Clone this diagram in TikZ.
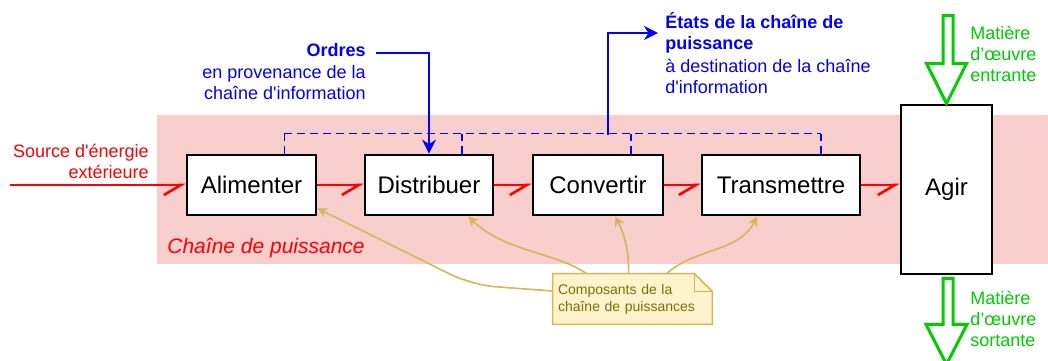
\documentclass[tikz,border=0pt]{standalone}
\usepackage{fontspec}
\setmainfont{Liberation Sans}[Ligatures=TeXOff]
\usetikzlibrary{arrows.meta,calc,backgrounds}
\definecolor{fond}{HTML}{F8CECC}
\definecolor{vert}{HTML}{00CC00}
\definecolor{dore}{HTML}{D6B656}
\definecolor{notefond}{HTML}{FFF2CC}
\definecolor{notetexte}{HTML}{7F6F00}

\begin{document}
\begin{tikzpicture}[x=0.5pt,y=-0.5pt,
	bloc/.style={draw=black, line width=1.4pt, fill=white, inner sep=0pt, minimum height=30pt, font=\fontsize{12}{14}\selectfont},
	energie/.style={draw=red, line width=1.3pt, -{Straight Barb[right,length=8.5pt,width=10pt]}},
	ordre/.style={draw=blue, line width=1.3pt, -{Stealth[length=7pt,width=7pt]}},
	bus/.style={draw=blue, line width=0.8pt, dash pattern=on 4pt off 2.5pt},
	matiere/.style={draw=vert, line width=1.5pt, fill=white},
	lien/.style={draw=dore, line width=0.8pt, -{Stealth[length=5pt,width=5pt]}},
	txt/.style={inner sep=0pt, font=\fontsize{9}{10.5}\selectfont}]
	\useasboundingbox (0,0) rectangle (1048,360);

	\node[bloc, minimum width=64.5pt] (alim) at (251.5,185) {Alimenter};
	\node[bloc, minimum width=64pt] (distr) at (429,185) {Distribuer};
	\node[bloc, minimum width=65pt] (conv) at (598,185) {Convertir};
	\node[bloc, minimum width=79pt] (trans) at (781,185) {Transmettre};
	\node[bloc, minimum width=45.5pt, minimum height=84.5pt] (agir) at (946.5,189.5) {Agir};

	\coordinate (src) at (10,185);
	\draw[energie] (src) -- (alim);
	\draw[energie] (alim) -- (distr);
	\draw[energie] (distr) -- (conv);
	\draw[energie] (conv) -- (trans);
	\draw[energie] (trans.east) -- (trans.east -| agir.west);

	\node[txt, anchor=east, align=right, text=red] (source) at (149,161) {Source d'énergie\\extérieure};
	\node[txt, anchor=west, text=red, font=\itshape\fontsize{10.5}{12}\selectfont] (chaine) at (167,248) {Chaîne de puissance};

	\node[txt, anchor=east, text=blue, font=\bfseries\fontsize{9}{10.5}\selectfont, inner sep=5pt] (ordres) at (376,50) {Ordres};
	\node[txt, anchor=east, align=right, text=blue] (provenance) at (366,82.5) {en provenance de la\\chaîne d'information};
	\draw[ordre] ([yshift=-1.5pt]ordres.east) -| (distr.north);

	\foreach \b in {alim,distr,conv,trans}
		\draw[bus] ($(\b.north)!0.5!(\b.north east)$) -- ++(0,-20) coordinate (\b-bus);
	\draw[bus] (alim-bus) -- (trans-bus);

	\node[txt, anchor=west, align=left, text=blue, font=\bfseries\fontsize{9}{10.5}\selectfont, inner sep=3.5pt] (etats) at (658,33) {États de la chaîne de\\puissance};
	\node[txt, anchor=west, align=left, text=blue] (destination) at (665,76.5) {à destination de la chaîne\\d'information};
	\coordinate (bus) at (608,135);
	\draw[ordre] (bus) |- (etats.west);

	\draw[matiere] (agir.north) -- ++(20,-40) -- ++(-13.5,0) -- ++(0,-48) -- ++(-10,0) -- ++(0,48) -- ++(-16.5,0) -- cycle;
	\draw[matiere] ([yshift=-1.5pt]agir.south) ++(-3.5,0) -- ++(10,0) -- ++(0,46) -- ++(14,0) -- ++(-20.5,40) -- ++(-20.5,-40) -- ++(17,0) -- cycle;
	\node[txt, anchor=west, align=left, text=vert] (entrante) at (970,54) {Matière\\d’œuvre\\entrante};
	\node[txt, anchor=west, align=left, text=vert] (sortante) at (970,319) {Matière\\d’œuvre\\sortante};

	\node[text=notetexte, font=\fontsize{7}{8.5}\selectfont, align=left, text width=74.5pt, minimum height=25pt, inner sep=2.5pt] (note) at (632.5,299) {Composants de la\\chaîne de puissances};

	\draw[lien, rounded corners=12pt] ([yshift=4pt]note.west) -- (472,285) -- ([yshift=4pt]alim.south east);
	\draw[lien] ([xshift=17pt]note.north west) .. controls (555,252) and (505,252) .. ($(distr.south)!0.6!(distr.south east)$);
	\draw[lien] ([xshift=38pt]note.north west) .. controls (629,245) and (622,230) .. ($(conv.south)!0.26!(conv.south east)$);
	\draw[lien] ([xshift=57pt]note.north west) .. controls (695,248) and (740,252) .. ($(trans.south)!0.3!(trans.south west)$);

	\begin{pgfonlayer}{background}
		\fill[fond] (157,115) rectangle (1048,264);
		\filldraw[fill=notefond, draw=dore, line width=0.8pt] (note.south west) -- (note.north west) -- ([xshift=-9pt]note.north east) -- ([yshift=-9pt]note.north east) -- (note.south east) -- cycle;
		\draw[dore, line width=0.8pt] ([xshift=-9pt]note.north east) -- ([xshift=-9pt,yshift=-9pt]note.north east) -- ([yshift=-9pt]note.north east);
	\end{pgfonlayer}
\end{tikzpicture}
\end{document}
